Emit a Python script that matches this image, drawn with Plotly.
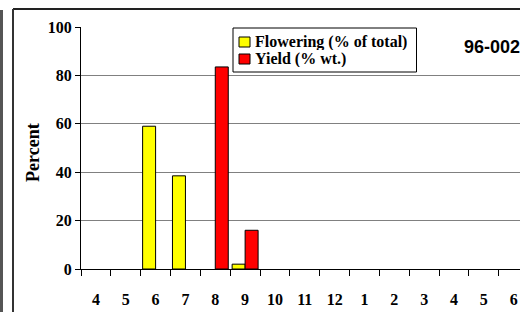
import plotly.graph_objects as go

# ---- data ----
month_labels = ["4", "5", "6", "7", "8", "9", "10", "11", "12", "1", "2", "3", "4", "5", "6"]
flowering = [None, None, 59, 38.5, None, 2, None, None, None, None, None, None, None, None, None]
yield_wt = [None, None, None, None, 83.5, 16, None, None, None, None, None, None, None, None, None]
series_names = ["Flowering (% of total)", "Yield (% wt.)"]
y_ticks = [0, 20, 40, 60, 80, 100]
title_text = "96-002"
y_title = "Percent"

W, H = 520, 312
ML, MR, MT, MB = 81, 0, 27, 43
PW, PH = W - ML - MR, H - MT - MB


def px(x):
    return (x - ML) / PW


def py(y):
    return (H - MB - y) / PH


xpos = list(range(len(month_labels)))
serif = "Liberation Serif"

fig = go.Figure()
fig.add_trace(go.Bar(x=xpos, y=flowering, name=series_names[0],
                     marker=dict(color="#FFFF00", line=dict(color="black", width=1))))
fig.add_trace(go.Bar(x=xpos, y=yield_wt, name=series_names[1],
                     marker=dict(color="#FF0000", line=dict(color="black", width=1))))

cat_w = 29.84
fig.update_layout(
    width=W, height=H,
    margin=dict(l=ML, r=MR, t=MT, b=MB, pad=0),
    paper_bgcolor="white", plot_bgcolor="white",
    barmode="group", bargap=0.13, bargroupgap=0,
    showlegend=False,
    font=dict(family=serif, size=16, color="black"),
)
fig.update_xaxes(
    range=[-0.5, -0.5 + PW / cat_w],
    tickmode="array", tickvals=xpos, ticktext=["<b>%s</b>" % t for t in month_labels],
    ticks="", showgrid=False, zeroline=False,
    showline=True, linecolor="black", linewidth=1,
    minor=dict(ticks="outside", tick0=-0.5, dtick=1, ticklen=6, tickcolor="black", tickwidth=1, showgrid=False),
    ticklabelstandoff=16,
    tickfont=dict(family=serif, size=16),
)
fig.update_yaxes(
    range=[0, 100], tickmode="array", tickvals=y_ticks,
    ticktext=["<b>%d</b>" % v for v in y_ticks],
    ticks="outside", ticklen=5, tickcolor="black",
    showgrid=True, gridcolor="#808080", gridwidth=1,
    zeroline=False, showline=True, linecolor="black", linewidth=1,
    tickfont=dict(family=serif, size=16),
)

shapes = []
# outer chart frame (cropped)
shapes.append(dict(type="line", xref="paper", yref="paper", x0=px(13), x1=px(520), y0=py(9), y1=py(9),
                   line=dict(color="#222", width=2)))
shapes.append(dict(type="line", xref="paper", yref="paper", x0=px(13), x1=px(13), y0=py(9), y1=py(312),
                   line=dict(color="#333", width=2)))
# neighbouring frame at far left
shapes.append(dict(type="rect", xref="paper", yref="paper", x0=px(0), x1=px(3), y0=py(10), y1=py(312),
                   fillcolor="#555", line=dict(width=0)))
# legend box
shapes.append(dict(type="rect", xref="paper", yref="paper", x0=px(233), x1=px(416.5), y0=py(28), y1=py(72),
                   fillcolor="white", line=dict(color="black", width=1), layer="above"))
swatch_colors = ["#FFFF00", "#FF0000"]
swatch_y = [(37, 47), (54, 64)]
for c, (ya, yb) in zip(swatch_colors, swatch_y):
    shapes.append(dict(type="rect", xref="paper", yref="paper", x0=px(239), x1=px(250), y0=py(yb), y1=py(ya),
                       fillcolor=c, line=dict(color="black", width=1), layer="above"))
fig.update_layout(shapes=shapes)

annotations = []
for name, yc in zip(series_names, [42, 59]):
    annotations.append(dict(xref="paper", yref="paper", x=px(254), y=py(yc), text="<b>%s</b>" % name,
                            showarrow=False, xanchor="left", yanchor="middle", height=16, borderpad=0,
                            font=dict(family=serif, size=16, color="black")))
annotations.append(dict(xref="paper", yref="paper", x=px(462), y=py(47), text="<b>%s</b>" % title_text,
                        showarrow=False, xanchor="left", yanchor="middle",
                        font=dict(family="Liberation Sans", size=18, color="black")))
annotations.append(dict(xref="paper", yref="paper", x=px(33), y=py(153), text="<b>%s</b>" % y_title,
                        showarrow=False, xanchor="center", yanchor="middle", textangle=-90,
                        font=dict(family=serif, size=18, color="black")))
fig.update_layout(annotations=annotations)

fig.write_html("out.html", config={"displayModeBar": False},
               post_script="document.body.style.margin='0';document.body.style.overflow='hidden';")
